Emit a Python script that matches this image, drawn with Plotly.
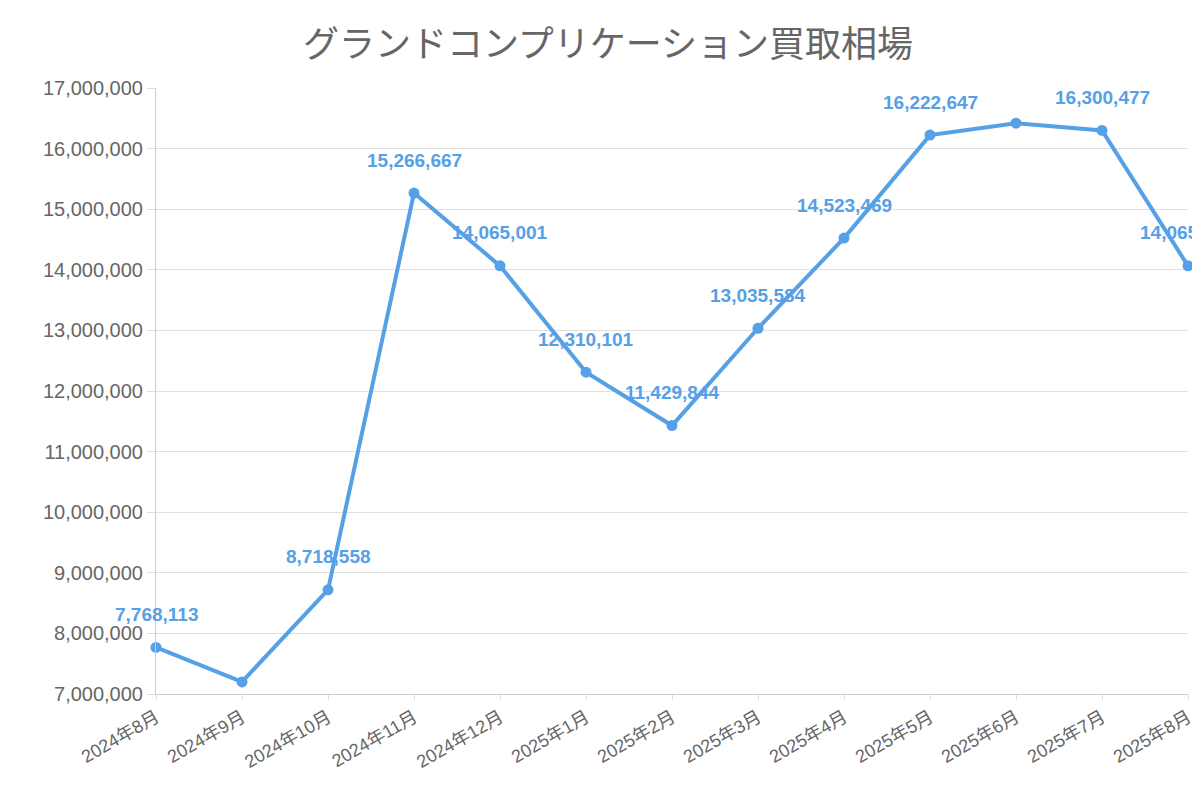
import plotly.graph_objects as go

months = ["2024年8月", "2024年9月", "2024年10月", "2024年11月", "2024年12月", "2025年1月",
          "2025年2月", "2025年3月", "2025年4月", "2025年5月", "2025年6月", "2025年7月", "2025年8月"]
prices = [7768113, 7200000, 8718558, 15266667, 14065001, 12310101,
          11429844, 13035584, 14523469, 16222647, 16420000, 16300477, 14065001]
show_label = [True, False, True, True, True, True, True, True, True, True, False, True, True]

blue = "#55a0e6"
font_fam = "Liberation Sans, Noto Sans CJK JP"

fig = go.Figure(go.Scatter(
    x=months, y=prices, mode="lines+markers",
    line=dict(color=blue, width=4),
    marker=dict(color=blue, size=11),
    cliponaxis=False,
))

# data labels above points
for m, v, s in zip(months, prices, show_label):
    if s:
        fig.add_annotation(x=m, y=v, text=f"<b>{v:,}</b>", showarrow=False, yshift=33,
                           font=dict(color=blue, size=19, family=font_fam))

fig.update_layout(
    width=1200, height=800,
    title=dict(text="グランドコンプリケーション買取相場", x=0.5, y=0.97, xanchor="center",
               font=dict(size=36, color="#666", family="Noto Sans CJK JP")),
    plot_bgcolor="white", paper_bgcolor="white",
    margin=dict(l=148, r=20, t=80, b=114),
    showlegend=False,
    font=dict(family=font_fam, color="#666"),
)
fig.update_xaxes(tickangle=-30, tickfont=dict(size=18, color="#666", family=font_fam),
                 showgrid=False, automargin=False,
                 showline=True, linecolor="#ccc", ticks="outside", tickcolor="#ddd",
                 range=[0, 12])
fig.update_yaxes(range=[7000000, 17000000], dtick=1000000, tickformat=",d", automargin=False,
                 tickfont=dict(size=20, color="#666", family=font_fam), gridcolor="#e0e0e0",
                 showline=True, linecolor="#ccc", zeroline=False, ticks="outside",
                 tickcolor="#ddd", ticklen=8)

fig.write_html("out.html")
